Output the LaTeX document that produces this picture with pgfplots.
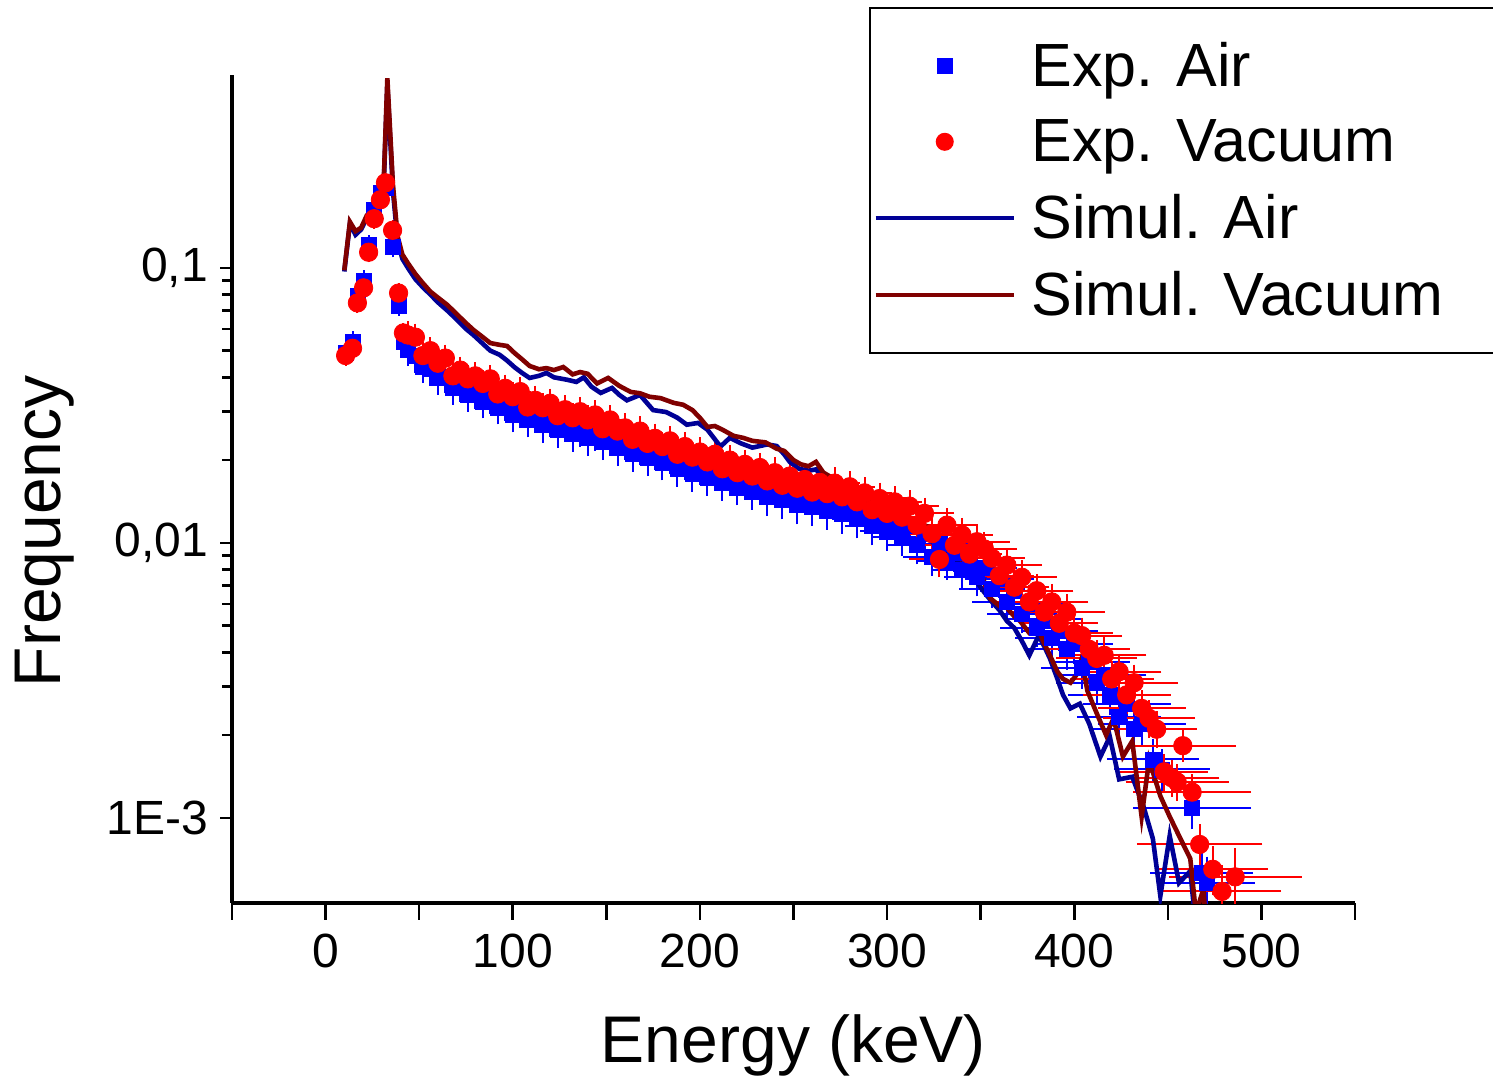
\documentclass[border=0pt]{standalone}
\usepackage{pgfplots}
\usepackage{pgfplotstable}
\pgfplotsset{compat=1.18}
\usepackage{fontspec}
\setmainfont{Liberation Sans}
\definecolor{simair}{RGB}{0,0,150}
\definecolor{simvac}{RGB}{128,0,0}
\pgfplotsset{
  legsq/.style={legend image code/.code={%
    \draw[##1, only marks, mark repeat=2, mark phase=2, mark size=3.5pt] plot coordinates {(0pt,0pt) (34.5pt,0pt) (69pt,0pt)};}},
  legci/.style={legend image code/.code={%
    \draw[##1, only marks, mark repeat=2, mark phase=2, mark size=4pt] plot coordinates {(0pt,0pt) (34.5pt,0pt) (69pt,0pt)};}},
  legln/.style={legend image code/.code={\draw[##1, line width=2pt] (0pt,0pt) -- (69pt,0pt);}},
}

\pgfplotstableread{
E val ex ey
10.7 0.049 0.5 0.03
14.4 0.054 0.5 0.03
17.0 0.079 0.5 0.03
20.3 0.090 0.5 0.03
23.0 0.121 0.5 0.03
26.0 0.163 0.5 0.03
29.3 0.187 0.5 0.03
32.0 0.195 0.5 0.03
35.8 0.119 0.5 0.03
39.0 0.073 0.5 0.03
41.6 0.054 0.5 0.03
44 0.0505 1 0.08
48 0.0478 1 0.08
52 0.0438 1 0.08
56 0.0428 1 0.08
60 0.0398 1 0.08
64 0.0402 1 0.08
68 0.0366 1 0.08
72 0.0375 1 0.08
76 0.0345 1 0.08
80 0.0352 1 0.08
84 0.0326 1 0.08
88 0.0338 1 0.08
92 0.0310 1 0.08
96 0.0320 1 0.08
100 0.0293 1 0.09
104 0.0305 2 0.09
108 0.0281 2 0.09
112 0.0292 2 0.09
116 0.0268 2 0.09
120 0.0282 2 0.09
124 0.0258 2 0.09
128 0.0270 2 0.09
132 0.0249 2 0.09
136 0.0260 2 0.09
140 0.0240 2 0.09
144 0.0251 3 0.09
148 0.0232 3 0.09
152 0.0241 3 0.09
156 0.0221 3 0.09
160 0.0232 3 0.09
164 0.0211 3 0.09
168 0.0222 3 0.09
172 0.0203 4 0.09
176 0.0213 4 0.09
180 0.0196 4 0.09
184 0.0207 4 0.09
188 0.0186 5 0.09
192 0.0196 5 0.09
196 0.0178 5 0.09
200 0.0189 5 0.09
204 0.0172 6 0.09
208 0.0182 6 0.09
212 0.0165 6 0.09
216 0.0176 6 0.09
220 0.0159 7 0.09
224 0.0170 7 0.09
228 0.0153 7 0.09
232 0.0163 7 0.09
236 0.0147 8 0.10
240 0.0158 8 0.10
244 0.0143 8 0.10
248 0.0153 8 0.10
252 0.0137 9 0.10
256 0.0149 9 0.10
260 0.0135 9 0.10
264 0.0146 9 0.10
268 0.0131 10 0.10
272 0.0143 10 0.10
276 0.0127 10 0.10
280 0.0139 10 0.10
284 0.0122 10 0.10
288 0.0131 11 0.10
292 0.0115 11 0.10
296 0.0125 11 0.10
300 0.0110 11 0.10
304 0.0120 11 0.10
308 0.0105 12 0.10
312 0.0115 12 0.10
316 0.0098 12 0.10
320 0.0108 12 0.10
324 0.0089 12 0.10
328 0.0099 13 0.10
332 0.0086 13 0.10
336 0.0092 13 0.10
340 0.0080 13 0.10
344 0.0086 14 0.10
348 0.0075 14 0.10
352 0.0081 14 0.10
356 0.0068 14 0.10
360 0.0074 15 0.10
364 0.0061 15 0.10
368 0.0067 15 0.10
372 0.0055 15 0.10
376 0.0060 16 0.10
380 0.0049 16 0.10
384 0.0053 16 0.11
388 0.0045 16 0.11
392 0.0048 17 0.11
396 0.0041 17 0.11
400 0.0043 17 0.11
404 0.0035 18 0.11
408 0.0037 18 0.11
412 0.0031 18 0.11
416 0.0033 19 0.11
419 0.0028 19 0.11
424 0.00233 19 0.12
428 0.0026 20 0.12
432 0.0021 20 0.12
436 0.0022 20 0.12
442 0.00163 21 0.12
447 0.00150 22 0.12
463 0.00109 28 0.12
468 0.00063 24 0.15
471 0.00058 22 0.18
}\expair

\pgfplotstableread{
E val ex ey
10.7 0.048 0.5 0.03
14.4 0.051 0.5 0.03
17.0 0.0746 0.5 0.03
20.3 0.0846 0.5 0.03
23.0 0.114 0.5 0.03
26.0 0.151 0.5 0.03
29.3 0.177 0.5 0.03
32.0 0.204 0.5 0.03
35.8 0.137 0.5 0.03
39.0 0.081 0.5 0.03
41.6 0.058 0.5 0.03
44 0.0570 1 0.06
48 0.0560 1 0.06
52 0.0480 1 0.06
56 0.0500 1 0.06
60 0.0450 1 0.06
64 0.0470 1 0.06
68 0.0405 1 0.06
72 0.0425 1 0.06
76 0.0395 1 0.06
80 0.0405 1 0.06
84 0.0380 1 0.06
88 0.0395 1 0.06
92 0.0348 1 0.06
96 0.0365 1 0.06
100 0.0340 1 0.07
104 0.0355 2 0.07
108 0.0312 2 0.07
112 0.0330 2 0.07
116 0.0310 2 0.07
120 0.0322 2 0.07
124 0.0290 2 0.07
128 0.0305 2 0.07
132 0.0285 2 0.07
136 0.0300 2 0.07
140 0.0280 2 0.07
144 0.0292 3 0.07
148 0.0260 3 0.07
152 0.0280 3 0.07
156 0.0255 3 0.07
160 0.0262 3 0.07
164 0.0238 3 0.07
168 0.0255 3 0.07
172 0.0230 4 0.07
176 0.0240 4 0.07
180 0.0224 4 0.07
184 0.0235 4 0.07
188 0.0210 5 0.07
192 0.0224 5 0.07
196 0.0205 5 0.07
200 0.0214 5 0.07
204 0.0197 6 0.07
208 0.0210 6 0.07
212 0.0186 6 0.07
216 0.0200 6 0.07
220 0.0180 7 0.07
224 0.0193 7 0.07
228 0.0175 7 0.07
232 0.0188 7 0.07
236 0.0168 8 0.08
240 0.0180 8 0.08
244 0.0162 8 0.08
248 0.0175 8 0.08
252 0.0158 9 0.08
256 0.0170 9 0.08
260 0.0153 9 0.08
264 0.0166 9 0.08
268 0.0151 10 0.08
272 0.0165 10 0.08
276 0.0147 10 0.08
280 0.0160 10 0.08
284 0.0141 10 0.08
288 0.0152 11 0.08
292 0.0132 11 0.08
296 0.0145 11 0.08
300 0.0128 11 0.08
304 0.0141 11 0.08
308 0.0124 12 0.08
312 0.0136 12 0.08
316 0.0116 12 0.08
320 0.0128 12 0.08
324 0.0108 12 0.08
328 0.0087 13 0.09
332 0.0116 13 0.09
336 0.0098 13 0.09
340 0.0107 13 0.09
344 0.0091 14 0.09
348 0.0101 14 0.09
352 0.0095 14 0.09
356 0.0088 14 0.09
360 0.0076 15 0.09
364 0.0083 15 0.09
368 0.0069 15 0.09
372 0.0075 15 0.09
376 0.0061 16 0.09
380 0.0067 16 0.09
384 0.0056 16 0.10
388 0.0061 16 0.10
392 0.0051 17 0.10
396 0.0056 17 0.10
400 0.0047 17 0.10
404 0.0046 18 0.10
408 0.0041 18 0.10
412 0.0038 18 0.10
416 0.0039 19 0.10
420 0.0032 19 0.10
424 0.0034 19 0.10
428 0.0028 20 0.10
432 0.0031 20 0.10
436 0.0025 20 0.10
440 0.0023 21 0.10
444 0.0021 18 0.10
448 0.00147 20 0.10
452 0.00140 22 0.10
455 0.00135 24 0.10
458 0.00183 25 0.08
463 0.00124 28 0.10
467 0.00080 30 0.12
474 0.00065 26 0.15
479 0.00054 28 0.18
486 0.00061 32 0.20
}\exvac

\pgfplotstableread{
E val
10 0.097
13 0.145
16 0.132
19 0.138
22 0.152
25 0.163
28 0.175
31 0.195
33 0.46
36 0.19
38.5 0.125
41 0.108
44 0.100
48 0.091
52 0.085
56 0.080
60 0.075
65 0.070
70 0.065
75 0.060
79 0.057
84 0.053
88 0.050
93 0.0483
97 0.046
101 0.0435
105 0.0415
109 0.0398
114 0.0405
118 0.0415
122 0.0400
129 0.0392
134 0.0385
138 0.0400
142 0.0370
147 0.0351
153 0.0366
157 0.0345
161 0.0330
168 0.0345
175 0.0304
182 0.0299
188 0.0285
193 0.0269
199 0.0273
204 0.0258
211 0.0224
216 0.0241
222 0.0230
228 0.0222
236 0.0228
241 0.0225
245 0.0210
248 0.0197
253 0.0186
258 0.0183
262 0.0185
266 0.0172
271 0.0166
275 0.0160
280 0.0150
284 0.0148
288 0.0140
292 0.0134
296 0.0131
300 0.0125
304 0.0119
308 0.0112
312 0.0114
316 0.0110
320 0.0106
324 0.0101
328 0.0095
332 0.0093
336 0.0088
340 0.0082
344 0.0078
348 0.0072
352 0.0066
356 0.0061
360 0.0057
364 0.0052
368 0.0049
372 0.0044
376 0.0039
381 0.0046
384 0.0042
387 0.0038
391 0.0032
394 0.0028
398 0.0025
403 0.0026
408 0.0022
414 0.00167
419 0.00197
424 0.00138
431 0.00141
437 0.0011
442 0.00084
446 0.00052
451 0.00086
456 0.00058
462 0.00064
465 0.00040
468 0.00030
}\simair

\pgfplotstableread{
E val
10 0.098
13 0.147
16 0.136
19 0.140
22 0.155
25 0.165
28 0.177
31 0.200
33 0.49
36 0.20
38.5 0.13
41 0.112
44 0.104
48 0.095
52 0.088
56 0.082
60 0.078
65 0.0734
70 0.068
75 0.063
79 0.0595
84 0.056
88 0.0533
93 0.0525
97 0.052
101 0.049
105 0.0465
109 0.0440
114 0.0428
118 0.0432
122 0.0425
127 0.0436
132 0.0410
136 0.0418
140 0.0412
145 0.0380
151 0.0398
157 0.0372
163 0.0354
168 0.0350
173 0.0340
179 0.0336
186 0.0323
191 0.0318
196 0.0304
200 0.0285
204 0.0264
208 0.0266
212 0.0258
218 0.0245
223 0.0241
228 0.0235
235 0.0232
241 0.0220
245 0.0216
250 0.0200
254 0.0193
258 0.0190
262 0.0197
266 0.0180
271 0.0172
275 0.0168
280 0.0158
284 0.0156
288 0.0148
292 0.0140
296 0.0136
300 0.0129
304 0.0122
307 0.0116
311 0.0119
314 0.0118
318 0.0117
323 0.0114
327 0.0100
331 0.0097
335 0.0092
339 0.0088
342 0.0085
346 0.0078
351 0.0075
355 0.0063
360 0.0059
364 0.0058
368 0.0054
371 0.0052
376 0.0047
381 0.0048
384 0.0043
387 0.0039
391 0.0034
394 0.0032
398 0.0031
401 0.0033
404 0.0038
407 0.0029
412 0.0024
417 0.0020
421 0.0023
426 0.00167
431 0.0019
436 0.00101
440 0.00162
446 0.00120
451 0.00101
456 0.00086
462 0.00071
465 0.00045
469 0.00055
472 0.00030
}\simvac

\begin{document}
\begin{tikzpicture}
\path[use as bounding box] (0,0) rectangle (746.5pt,539.5pt);
\begin{axis}[
  at={(116pt,88pt)}, anchor=south west,
  scale only axis, width=561.5pt, height=414pt,
  ymode=log,
  xmin=-50, xmax=550, ymin=4.9e-4, ymax=0.503,
  axis x line*=bottom, axis y line*=left,
  axis line style={line width=1.6pt},
  tick align=outside,
  tick style={line width=1.3pt, black},
  major tick length=8.5pt, minor tick length=5pt,
  ytick style={/pgfplots/major tick length=6pt},
  xtick={-50,0,50,100,150,200,250,300,350,400,450,500,550},
  xticklabels={,0,,100,,200,,300,,400,,500,},
  ytick={0.001,0.01,0.1},
  yticklabels={1E-3,{0,01},{0,1}},
  ticklabel style={font=\fontsize{24}{28}\selectfont},
  xticklabel style={yshift=-3.5pt},
  xlabel={Energy (keV)}, ylabel={Frequency},
  xlabel style={at={(axis description cs:0.5,-0.1715)}, anchor=center, font=\fontsize{33}{40}\selectfont},
  ylabel style={at={(axis description cs:-0.1665,0.449)}, anchor=center, font=\fontsize{33}{40}\selectfont},
  legend style={at={(axis description cs:0.567,1.082)}, anchor=north west,
    draw=black, line width=1pt, font=\fontsize{30.5}{36}\selectfont,
    inner xsep=2pt, inner ysep=14pt, row sep=9pt,
    nodes={inner xsep=3pt, inner ysep=3pt}},
  legend cell align=left,
  error bars/error bar style={line width=1pt},
  error bars/error mark options={mark size=3.3pt, line width=1pt},
]
\addplot[blue, only marks, mark=square*, mark size=3.75pt, legsq,
  error bars/.cd, x dir=both, x explicit, y dir=both, y explicit relative,
  error bar style={blue}]
  table[x=E, y=val, x error=ex, y error=ey] {\expair};
\addlegendentry{\hspace*{5pt}Exp. Air}
\addplot[red, only marks, mark=*, mark size=4.6pt, legci,
  error bars/.cd, x dir=both, x explicit, y dir=both, y explicit relative,
  error bar style={red}]
  table[x=E, y=val, x error=ex, y error=ey] {\exvac};
\addlegendentry{\hspace*{5pt}Exp. Vacuum}
\addplot[simair, line width=2.3pt, no marks, legln]
  table[x=E, y=val] {\simair};
\addlegendentry{\hspace*{5pt}Simul. Air}
\addplot[simvac, line width=2.3pt, no marks, legln]
  table[x=E, y=val] {\simvac};
\addlegendentry{\hspace*{5pt}Simul. Vacuum\hspace*{30pt}}
\end{axis}
\end{tikzpicture}
\end{document}
